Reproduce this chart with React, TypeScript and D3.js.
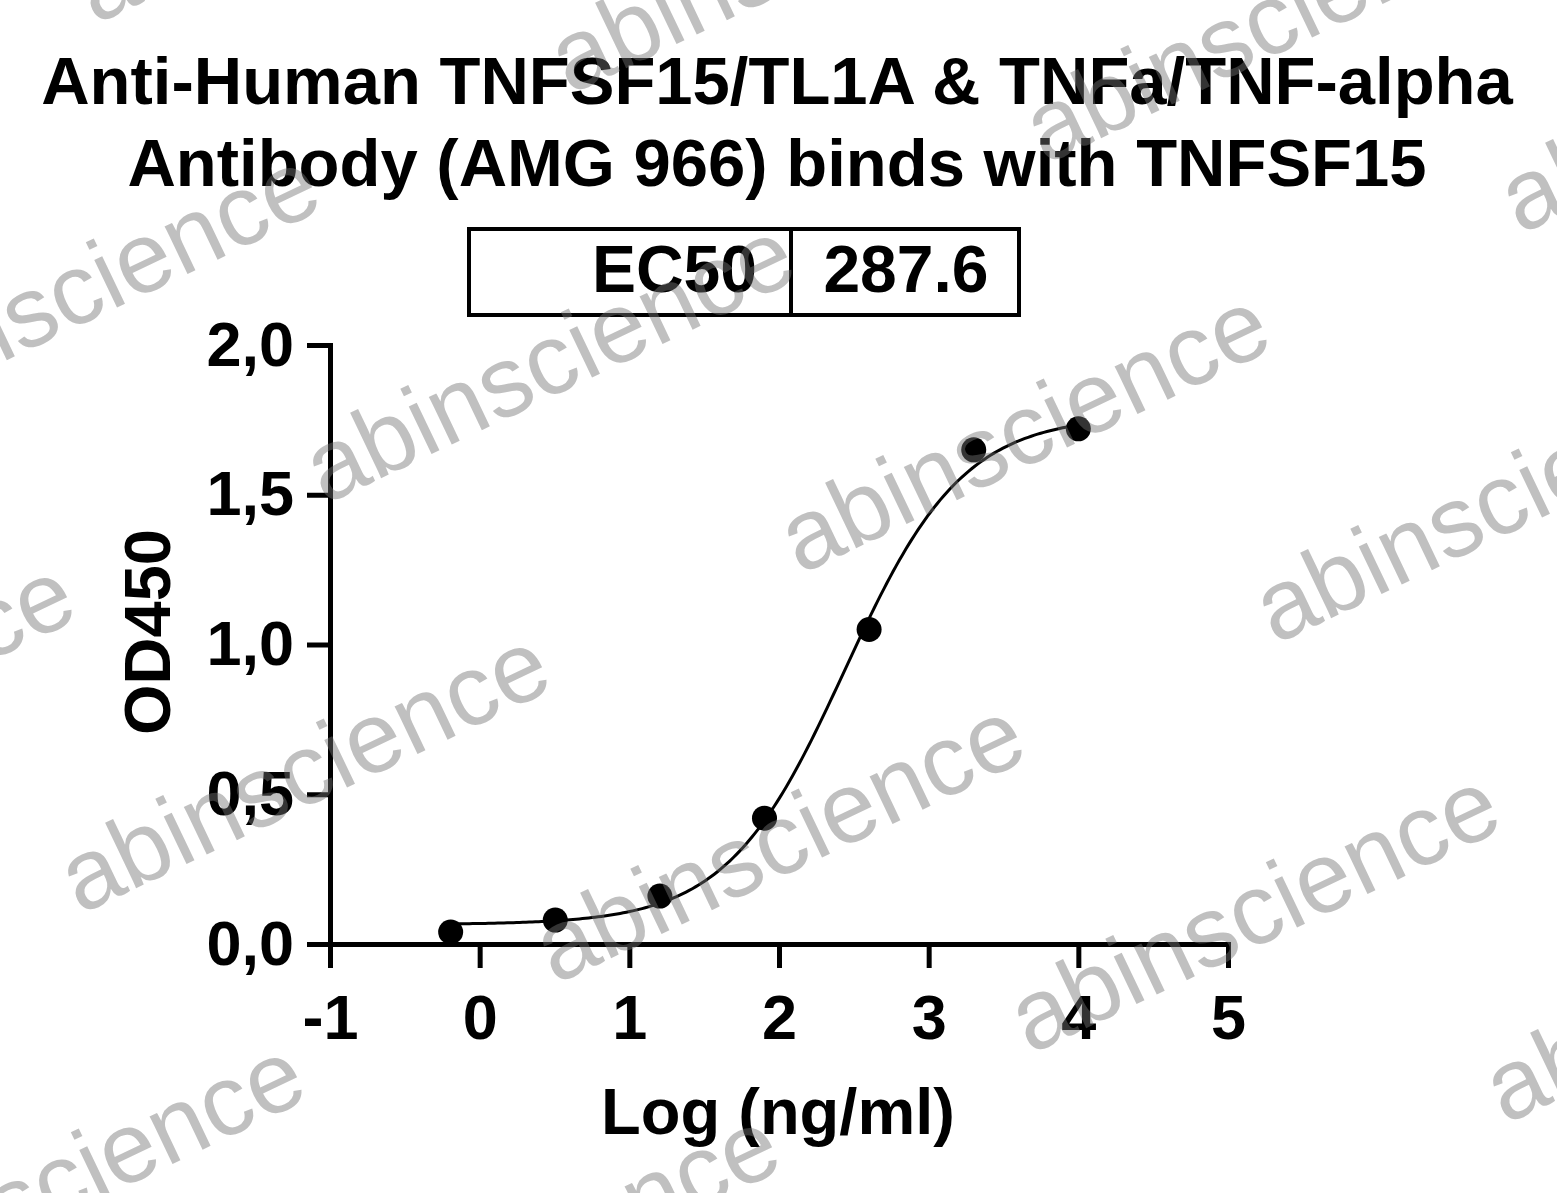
import React, { useEffect, useRef } from 'react';
import * as d3 from 'd3';

// title + EC50 table
const titleLines = [
  'Anti-Human TNFSF15/TL1A & TNFa/TNF-alpha',
  'Antibody (AMG 966) binds with TNFSF15',
];
const ec50Label = 'EC50';
const ec50Value = 287.6;

// measured points (5-fold dilution series, ng/ml)
const concNgPerMl = [0.64, 3.2, 16, 80, 400, 2000, 10000];
const od450 = [0.04, 0.08, 0.16, 0.42, 1.05, 1.65, 1.72];

// 4PL curve as drawn
const fitBottom = 0.065;
const fitTop = 1.765;
const fitHill = 1.1;
const fitLogMid = 2.44;

// axes
const xTicks = [-1, 0, 1, 2, 3, 4, 5];
const yTicks = [0, 0.5, 1.0, 1.5, 2.0];
const xTitle = 'Log (ng/ml)';
const yTitle = 'OD450';
const watermark = 'abinscience';

const W = 1557;
const H = 1193;
const FONT = '"Liberation Sans", Arial, Helvetica, sans-serif';

export default function App() {
  const ref = useRef<SVGSVGElement>(null);

  useEffect(() => {
    if (!ref.current) return;
    const svg = d3.select(ref.current);
    svg.selectAll('*').remove();

    const x = d3.scaleLinear().domain([-1, 5]).range([330, 1228]);
    const y = d3.scaleLinear().domain([0, 2]).range([944, 345]);

    svg.append('rect').attr('width', W).attr('height', H).attr('fill', '#fff');

    // title
    svg.append('g')
      .selectAll('text')
      .data(titleLines)
      .enter().append('text')
      .attr('x', 777)
      .attr('y', (_, i) => 104 + i * 82)
      .attr('text-anchor', 'middle')
      .attr('font-family', FONT)
      .attr('font-weight', 'bold')
      .attr('font-size', 67)
      .attr('fill', '#000')
      .text(d => d);

    // EC50 table
    const tbl = svg.append('g');
    tbl.append('rect')
      .attr('x', 469).attr('y', 229).attr('width', 550).attr('height', 86)
      .attr('fill', 'none').attr('stroke', '#000').attr('stroke-width', 4);
    tbl.append('line')
      .attr('x1', 791).attr('x2', 791).attr('y1', 229).attr('y2', 315)
      .attr('stroke', '#000').attr('stroke-width', 4);
    tbl.append('text')
      .attr('x', 757).attr('y', 292)
      .attr('text-anchor', 'end')
      .attr('font-family', FONT).attr('font-weight', 'bold').attr('font-size', 66)
      .text(ec50Label);
    tbl.append('text')
      .attr('x', 906).attr('y', 292)
      .attr('text-anchor', 'middle')
      .attr('font-family', FONT).attr('font-weight', 'bold').attr('font-size', 66)
      .text(ec50Value.toFixed(1));

    // axes
    const yAxis = svg.append('g')
      .attr('transform', `translate(${x(-1)},0)`)
      .call(d3.axisLeft(y)
        .tickValues(yTicks)
        .tickSize(23)
        .tickSizeOuter(0)
        .tickPadding(13)
        .tickFormat(d => d3.format('.1f')(d as number).replace('.', ',')));
    const xAxis = svg.append('g')
      .attr('transform', `translate(0,${y(0)})`)
      .call(d3.axisBottom(x)
        .tickValues(xTicks)
        .tickSize(24)
        .tickSizeOuter(0)
        .tickPadding(26)
        .tickFormat(d3.format('d')));

    [yAxis, xAxis].forEach(g => {
      g.attr('font-family', FONT).attr('font-size', 63).attr('font-weight', 'bold');
      g.select('.domain').attr('stroke', '#000').attr('stroke-width', 5).attr('stroke-linecap', 'square');
      g.selectAll('.tick line').attr('stroke', '#000').attr('stroke-width', 5);
      g.selectAll('.tick text').attr('fill', '#000');
    });
    xAxis.selectAll('.tick text').text(d => (d as number) < 0 ? '-' + Math.abs(d as number) : String(d));

    // axis titles
    svg.append('text')
      .attr('x', 778).attr('y', 1134)
      .attr('text-anchor', 'middle')
      .attr('font-family', FONT).attr('font-weight', 'bold').attr('font-size', 65)
      .text(xTitle);
    svg.append('text')
      .attr('transform', `translate(170,632) rotate(-90)`)
      .attr('text-anchor', 'middle')
      .attr('font-family', FONT).attr('font-weight', 'bold').attr('font-size', 65)
      .text(yTitle);

    // fitted curve
    const logX = concNgPerMl.map(c => Math.log10(c));
    const fit = (lx: number) => fitBottom + (fitTop - fitBottom) / (1 + Math.pow(10, (fitLogMid - lx) * fitHill));
    const [x0, x1] = d3.extent(logX) as [number, number];
    const curveX = d3.range(0, 201).map(i => x0 + (x1 - x0) * i / 200);
    svg.append('path')
      .datum(curveX)
      .attr('fill', 'none')
      .attr('stroke', '#000')
      .attr('stroke-width', 3)
      .attr('d', d3.line<number>().x(d => x(d)).y(d => y(fit(d))));

    // points
    svg.append('g')
      .selectAll('circle')
      .data(logX.map((lx, i) => ({ lx, od: od450[i] })))
      .enter().append('circle')
      .attr('cx', d => x(d.lx))
      .attr('cy', d => y(d.od))
      .attr('r', 12.5)
      .attr('fill', '#000');

    // watermark grid on top
    const wm = svg.append('g').attr('pointer-events', 'none');
    const base = [555, 985];
    const stepA = [475, 70];
    const stepB = [245, -410];
    for (let i = -3; i <= 3; i++) {
      for (let j = -2; j <= 3; j++) {
        const px = base[0] + i * stepA[0] + j * stepB[0];
        const py = base[1] + i * stepA[1] + j * stepB[1];
        if (px < -700 || px > W + 50 || py < -300 || py > H + 300) continue;
        wm.append('text')
          .attr('transform', `translate(${px},${py}) rotate(-25.5)`)
          .attr('font-family', FONT)
          .attr('font-size', 100)
          .attr('fill', '#737373')
          .attr('fill-opacity', 0.45)
          .text(watermark);
      }
    }
  }, []);

  return (
    <svg
      ref={ref}
      width={W}
      height={H}
      style={{ position: 'absolute', left: 0, top: 0, display: 'block' }}
    />
  );
}
